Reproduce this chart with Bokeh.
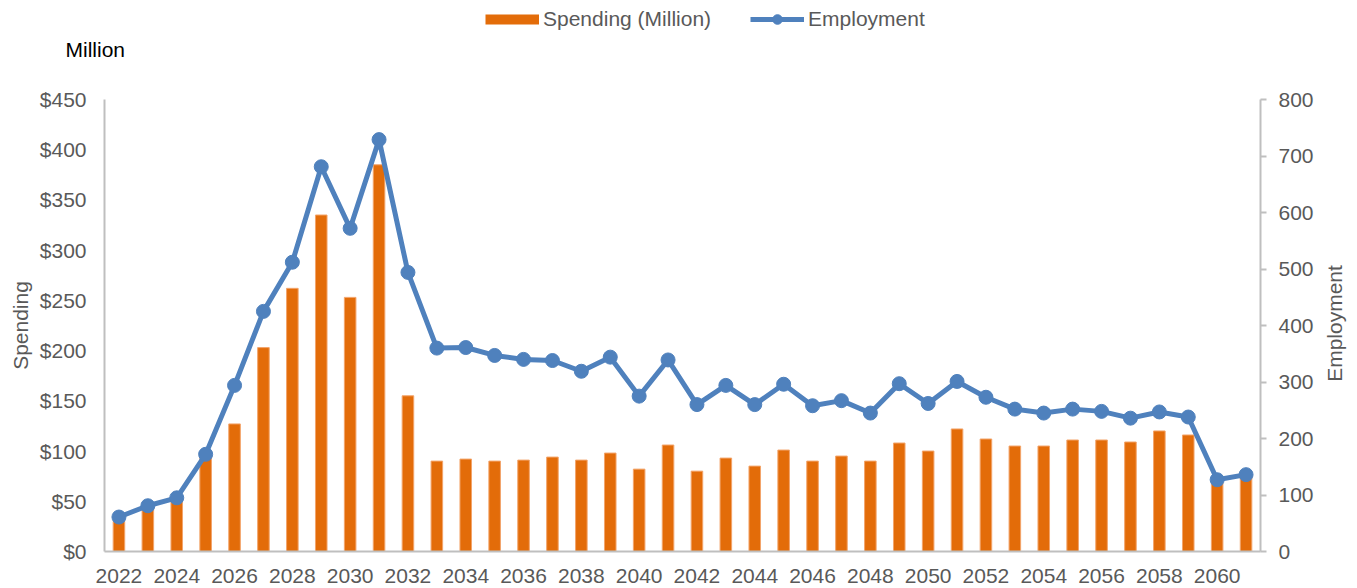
import math
from bokeh.plotting import figure
from bokeh.models import (Range1d, LinearAxis, FixedTicker, NumeralTickFormatter,
                          Legend, LegendItem, Label, ColumnDataSource)
from bokeh.embed import file_html
from bokeh.resources import INLINE

years = list(range(2022, 2062))
spending = [30, 44, 51, 94, 127, 203, 262, 335, 253, 385, 155, 90, 92, 90, 91, 94, 91, 98,
            82, 106, 80, 93, 85, 101, 90, 95, 90, 108, 100, 122, 112, 105, 105, 111, 111,
            109, 120, 116, 70, 75]
employment = [61, 81, 95, 172, 294, 425, 512, 681, 572, 729, 494, 360, 361, 347, 340, 338,
              319, 344, 275, 339, 260, 294, 260, 296, 258, 267, 245, 297, 262, 301, 273,
              252, 245, 252, 248, 236, 247, 238, 127, 136]
x_ticks = list(range(2022, 2061, 2))
spend_ticks = list(range(0, 451, 50))
emp_ticks = list(range(0, 801, 100))

FONT = "Liberation Sans"
FS = "21px"
GRAY = "#595959"
AXIS = "#BFBFBF"
ORANGE = "#E36C09"
BLUE = "#4F81BD"
W, H = 1357, 588

# plot-area placement (pixels) inside the canvas
L, R, T, B = 104, 1260, 99, 551
X0, X1 = 2021.5, 2061.5
S1, E1 = 450, 800
px_x = (R - L) / (X1 - X0)
px_s = (B - T) / S1
px_e = (B - T) / E1
x_range = Range1d(X0 - L / px_x, X1 + (W - R) / px_x)
s_range = Range1d(-(H - B) / px_s, S1 + T / px_s)
e_range = Range1d(-(H - B) / px_e, E1 + T / px_e)

src = ColumnDataSource(dict(year=years, spending=spending, employment=employment))

p = figure(width=W, height=H, output_backend="svg", toolbar_location=None,
           x_range=x_range, y_range=s_range,
           x_axis_location=None, y_axis_location=None,
           min_border_left=0, min_border_right=0, min_border_top=0, min_border_bottom=0)
p.extra_y_ranges = {"emp": e_range}
p.outline_line_color = None
p.xgrid.visible = False
p.ygrid.visible = False

bars = p.vbar(x="year", top="spending", width=0.4, source=src, fill_color=ORANGE,
              line_color="#F3A46A", line_width=1)
line = p.line(x="year", y="employment", source=src, y_range_name="emp",
              line_color=BLUE, line_width=5)
pts = p.scatter(x="year", y="employment", source=src, y_range_name="emp",
                size=14, fill_color=BLUE, line_color=BLUE)
# swatch used only by the legend entry of the bars (no visible data)
swatch = p.line(x=[float("nan"), float("nan")], y=[float("nan"), float("nan")],
                line_color=ORANGE, line_width=10)

# bottom axis
xa = LinearAxis(fixed_location=0, bounds=(X0, X1), ticker=FixedTicker(ticks=x_ticks))
xa.major_tick_line_color = None
xa.major_tick_out = 0
xa.major_tick_in = 0
xa.minor_tick_line_color = None
xa.axis_line_color = AXIS
xa.axis_line_width = 2
xa.major_label_text_font = FONT
xa.major_label_text_font_size = FS
xa.major_label_text_color = GRAY
xa.major_label_standoff = 17
p.add_layout(xa, "below")

# left axis
ya = LinearAxis(fixed_location=X0, bounds=(0, S1), ticker=FixedTicker(ticks=spend_ticks),
                formatter=NumeralTickFormatter(format="$0,0"))
ya.major_tick_line_color = None
ya.major_tick_out = 0
ya.major_tick_in = 0
ya.minor_tick_line_color = None
ya.axis_line_color = AXIS
ya.axis_line_width = 2
ya.major_label_text_font = FONT
ya.major_label_text_font_size = FS
ya.major_label_text_color = GRAY
ya.major_label_standoff = 18
p.add_layout(ya, "left")

# right axis
ra = LinearAxis(y_range_name="emp", fixed_location=X1, bounds=(0, E1),
                ticker=FixedTicker(ticks=emp_ticks))
ra.major_tick_line_color = AXIS
ra.major_tick_line_width = 2
ra.major_tick_out = 6
ra.major_tick_in = 0
ra.minor_tick_line_color = None
ra.axis_line_color = AXIS
ra.axis_line_width = 2
ra.major_label_text_font = FONT
ra.major_label_text_font_size = FS
ra.major_label_text_color = GRAY
ra.major_label_standoff = 12
p.add_layout(ra, "right")

legend = Legend(items=[LegendItem(label="Spending (Million)", renderers=[swatch]),
                       LegendItem(label="Employment", renderers=[line, pts])],
                orientation="horizontal", location=(485, H - 31),
                border_line_color=None, background_fill_alpha=0,
                padding=0, margin=0, spacing=39, glyph_width=54, glyph_height=24,
                label_standoff=4, label_text_font=FONT, label_text_font_size=FS,
                label_text_color=GRAY, label_height=24)
p.add_layout(legend)

p.add_layout(Label(x=65, y=H - 49, x_units="screen", y_units="screen", text="Million",
                   text_font=FONT, text_font_size=FS, text_color="#000000",
                   text_baseline="middle", text_align="left"))
p.add_layout(Label(x=20, y=H - 325, x_units="screen", y_units="screen", text="Spending",
                   text_font=FONT, text_font_size=FS, text_color=GRAY,
                   text_baseline="middle", text_align="center", angle=math.pi / 2))
p.add_layout(Label(x=1334, y=H - 323, x_units="screen", y_units="screen", text="Employment",
                   text_font=FONT, text_font_size=FS, text_color=GRAY,
                   text_baseline="middle", text_align="center", angle=math.pi / 2))

open("out.html", "w").write(file_html(p, INLINE))
